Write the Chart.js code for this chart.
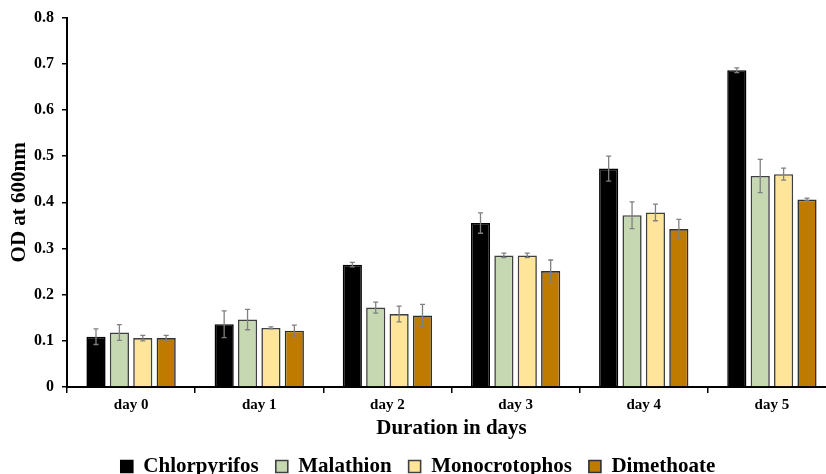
<!DOCTYPE html>
<html>
<head>
<meta charset="utf-8">
<script src="https://cdn.jsdelivr.net/npm/chart.js@4/dist/chart.umd.min.js"></script>
<style>
  html, body { margin: 0; padding: 0; background: #fff; overflow: hidden; }
  #wrap { width: 840px; height: 487px; }
</style>
</head>
<body>
<div id="wrap"><canvas id="chart"></canvas></div>
<script>
const days = ["day 0", "day 1", "day 2", "day 3", "day 4", "day 5"];

const chlorpyrifos = [0.109, 0.136, 0.265, 0.355, 0.473, 0.686];
const malathion = [0.118, 0.146, 0.172, 0.285, 0.372, 0.457];
const monocrotophos = [0.106, 0.128, 0.158, 0.285, 0.378, 0.461];
const dimethoate = [0.106, 0.122, 0.155, 0.251, 0.342, 0.406];

const chlorpyrifosErr = [0.017, 0.029, 0.005, 0.022, 0.027, 0.005];
const malathionErr = [0.017, 0.022, 0.012, 0.005, 0.029, 0.036];
const monocrotophosErr = [0.006, 0.002, 0.017, 0.005, 0.018, 0.013];
const dimethoateErr = [0.006, 0.012, 0.024, 0.024, 0.021, 0.003];

const font = "'Liberation Serif', 'Times New Roman', serif";

function series(label, data, errors, fill, border) {
  return {
    label,
    data,
    errors,
    backgroundColor: fill,
    borderColor: border,
    borderWidth: 1.6,
    categoryPercentage: 0.73,
    barPercentage: 0.82
  };
}

// draws the +/- error bars on top of each bar
const errorBars = {
  id: "errorBars",
  afterDatasetsDraw(chart) {
    const { ctx } = chart;
    const y = chart.scales.y;
    ctx.save();
    ctx.strokeStyle = "#808080";
    ctx.lineWidth = 1.3;
    chart.data.datasets.forEach((ds, i) => {
      const meta = chart.getDatasetMeta(i);
      meta.data.forEach((bar, j) => {
        const v = ds.data[j];
        const e = ds.errors[j];
        const top = y.getPixelForValue(v + e);
        const bottom = y.getPixelForValue(v - e);
        ctx.beginPath();
        ctx.moveTo(bar.x, top);
        ctx.lineTo(bar.x, bottom);
        ctx.moveTo(bar.x - 2.5, top);
        ctx.lineTo(bar.x + 2.5, top);
        ctx.moveTo(bar.x - 2.5, bottom);
        ctx.lineTo(bar.x + 2.5, bottom);
        ctx.stroke();
      });
    });
    ctx.restore();
  }
};

new Chart(document.getElementById("chart"), {
  type: "bar",
  data: {
    labels: days,
    datasets: [
      series("Chlorpyrifos", chlorpyrifos, chlorpyrifosErr, "#000000", "#000000"),
      series("Malathion", malathion, malathionErr, "#c5d8b1", "#404040"),
      series("Monocrotophos", monocrotophos, monocrotophosErr, "#fee599", "#404040"),
      series("Dimethoate", dimethoate, dimethoateErr, "#bf7a00", "#303030")
    ]
  },
  options: {
    responsive: true,
    maintainAspectRatio: false,
    animation: false,
    layout: { padding: { top: 15, left: 0, right: 4, bottom: 0 } },
    plugins: {
      tooltip: { enabled: false },
      legend: {
        position: "bottom",
        labels: {
          color: "#000",
          boxWidth: 12,
          boxHeight: 12,
          padding: 17,
          font: { family: font, size: 21, weight: "bold" }
        }
      }
    },
    scales: {
      x: {
        border: { color: "#000", width: 2 },
        grid: { drawOnChartArea: false, color: "#000", tickLength: 6, lineWidth: 1.5 },
        ticks: { color: "#000", padding: 5, font: { family: font, size: 15, weight: "bold", lineHeight: 1 } },
        title: {
          display: true,
          text: "Duration in days",
          color: "#000",
          padding: { top: 0, bottom: 0 },
          font: { family: font, size: 21, weight: "bold", lineHeight: 1 }
        }
      },
      y: {
        min: 0,
        max: 0.8,
        afterFit: (scale) => { scale.width = 67; },
        border: { color: "#000", width: 2 },
        grid: { drawOnChartArea: false, color: "#000", tickLength: 5, lineWidth: 1.5 },
        ticks: {
          stepSize: 0.1,
          color: "#000",
          padding: 8,
          font: { family: font, size: 16, weight: "bold" },
          callback: (value) => (value === 0 ? "0" : value.toFixed(1))
        },
        title: {
          display: true,
          text: "OD at 600nm",
          color: "#000",
          padding: { top: 9, bottom: 0 },
          font: { family: font, size: 21, weight: "bold", lineHeight: 1 }
        }
      }
    }
  },
  plugins: [errorBars]
});
</script>
</body>
</html>
